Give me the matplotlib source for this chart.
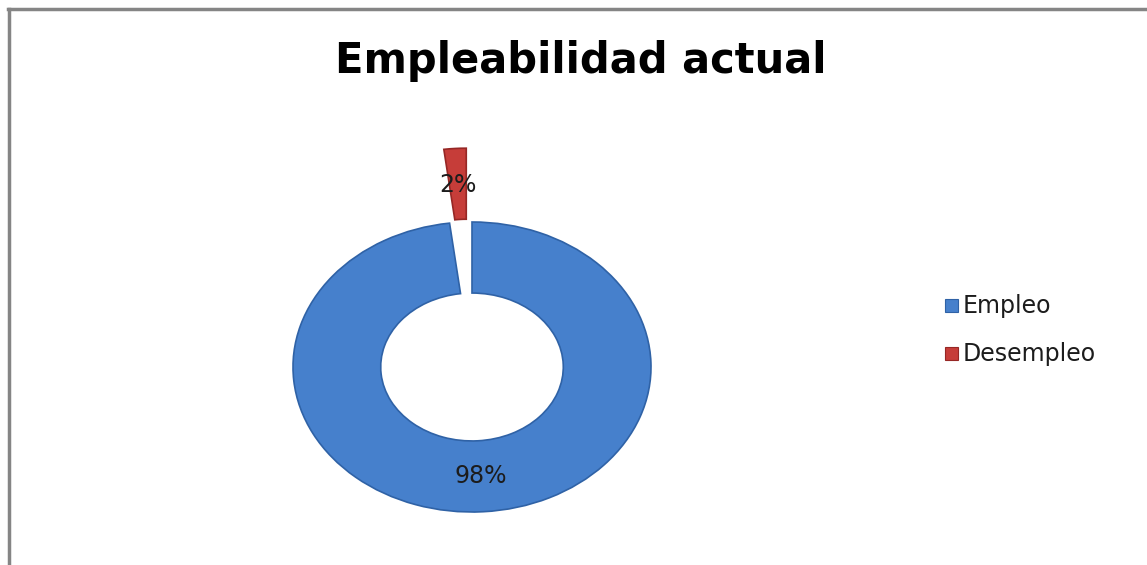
import matplotlib
matplotlib.use("Agg")
import matplotlib.pyplot as plt
from matplotlib.lines import Line2D
from matplotlib.patches import Rectangle

# Chart data
categories = ["Empleo", "Desempleo"]
values = [98, 2]
pct_labels = ["98%", "2%"]
title = "Empleabilidad actual"

colors = ["#4680cc", "#c63d39"]
edge_colors = ["#2f62a6", "#962725"]
FONT = ["DejaVu Sans"]

W, H = 1147, 565
fig = plt.figure(figsize=(W / 100, H / 100), dpi=100)
fig.patch.set_facecolor("white")

# Axes placed so the ring is an ellipse centred around (472, 367) px
cx, cy = 472, 367
rx, ry = 179, 145
lim = 2.0
aw, ah = 2 * lim * rx, 2 * lim * ry
ax = fig.add_axes([(cx - aw / 2) / W, (H - (cy + ah / 2)) / H, aw / W, ah / H])

wedges, texts = ax.pie(
    values,
    explode=[0.0, 0.51],
    colors=colors,
    startangle=90,
    counterclock=False,
    radius=1.0,
    labels=pct_labels,
    labeldistance=0.75,
    wedgeprops=dict(width=0.49, linewidth=1.2),
    textprops=dict(fontsize=17, color="#1c1c1c", family=FONT),
)
for w, ec in zip(wedges, edge_colors):
    w.set_edgecolor(ec)
    w.set_clip_on(False)
for t in texts:
    t.set_ha("center")
    t.set_va("center")
    t.set_clip_on(False)

ax.set_aspect("auto")
ax.set_xlim(-lim, lim)
ax.set_ylim(-lim, lim)
ax.axis("off")

# Title
fig.text(581 / W, 1 - 73 / H, title, ha="center", va="baseline",
         fontsize=30, fontweight="bold", color="#000000", family=FONT)

# Legend entries: swatch + label
leg_x, leg_y0, leg_dy, box = 945, 313, 48, 13
for i, (name, c, e) in enumerate(zip(categories, colors, edge_colors)):
    base = leg_y0 + i * leg_dy
    fig.add_artist(Rectangle(((leg_x) / W, 1 - (base - 1) / H), box / W, box / H,
                             facecolor=c, edgecolor=e, linewidth=0.8,
                             transform=fig.transFigure))
    fig.text(963 / W, 1 - base / H, name, ha="left", va="baseline",
             fontsize=17, color="#1c1c1c", family=FONT)

# Chart-area frame (top and left edges)
frame_kw = dict(color="#858585", linewidth=2.5, transform=fig.transFigure, clip_on=False)
fig.add_artist(Line2D([8 / W, 1.0], [1 - 9 / H, 1 - 9 / H], **frame_kw))
fig.add_artist(Line2D([8.5 / W, 8.5 / W], [1 - 9 / H, 0.0], **frame_kw))

fig.savefig("out.png", dpi=100)
